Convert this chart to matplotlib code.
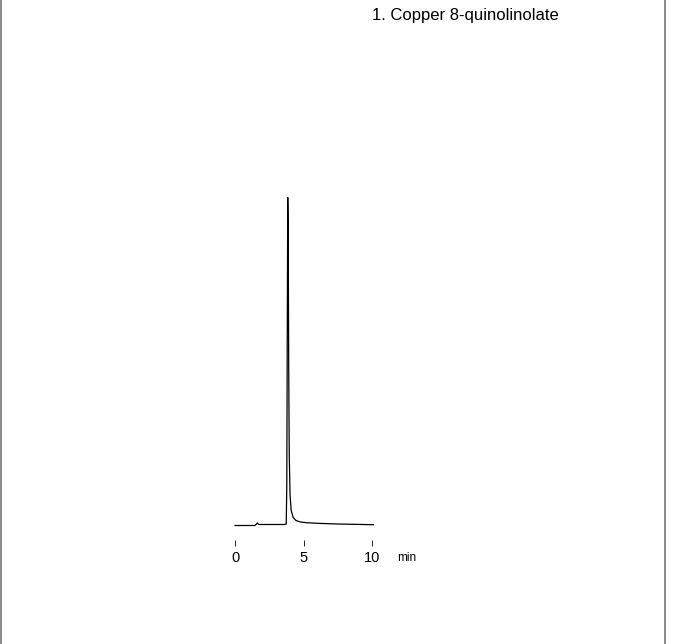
import matplotlib
matplotlib.use('Agg')
import matplotlib.pyplot as plt
from matplotlib.lines import Line2D

plt.rcParams['font.family'] = ['Liberation Sans', 'DejaVu Sans']

# ── Data ──
time_min = [0.0, 1.45, 1.55, 1.62, 1.70, 1.80, 1.95, 3.60, 3.74, 3.78,
            3.82, 3.85, 3.88, 3.92, 3.96, 4.02, 4.10, 4.25, 4.45, 4.75,
            5.2, 6.0, 7.5, 9.0, 10.1]
signal = [0.0, 0.0, 1.2, 2.5, 1.4, 1.0, 1.0, 1.0, 1.5, 40,
          210, 328, 300, 160, 70, 30, 15, 8, 5, 3.6,
          2.8, 2.2, 1.5, 1.1, 0.8]
xticks = [0, 5, 10]
peak_label = '1. Copper 8-quinolinolate'

W, H = 674, 644
fig = plt.figure(figsize=(W / 100, H / 100), dpi=100)

# pixel mapping: t=0 -> x=235, t=10 -> x=372; signal 0 -> y=525.5, 328 -> y=197
px_per_min = 13.7
x0, x_lo, x_hi = 235, -1.0, 11.0
y_lo, y_hi = -14.5, 340.0
y0_px = 525.5
left = (x0 + x_lo * px_per_min) / W
width = (x_hi - x_lo) * px_per_min / W
bottom_px = y0_px - y_lo
top_px = y0_px - y_hi
ax = fig.add_axes([left, 1 - bottom_px / H, width, (bottom_px - top_px) / H])

ax.plot(time_min, signal, color='black', lw=0.9)
ax.set_xlim(x_lo, x_hi)
ax.set_ylim(y_lo, y_hi)
for s in ax.spines.values():
    s.set_visible(False)
ax.set_yticks([])
ax.set_xticks(xticks)
ax.set_xticklabels([str(t) for t in xticks], fontsize=10.5)
ax.tick_params(axis='x', direction='out', length=4.3, width=0.6, pad=3.5)
ax.patch.set_alpha(0)

fig.text(407 / W, 1 - 558 / H, 'min', fontsize=8.5, ha='center', va='center')
fig.text(372 / W, 1 - 15.5 / H, peak_label, fontsize=12, ha='left', va='center')

# frame lines on left and right
for xp in (0.8, 664.5):
    fig.add_artist(Line2D([xp / W, xp / W], [0, 1], color='#808080', lw=1.3,
                          transform=fig.transFigure))

fig.savefig('out.png', dpi=100, facecolor='white')
